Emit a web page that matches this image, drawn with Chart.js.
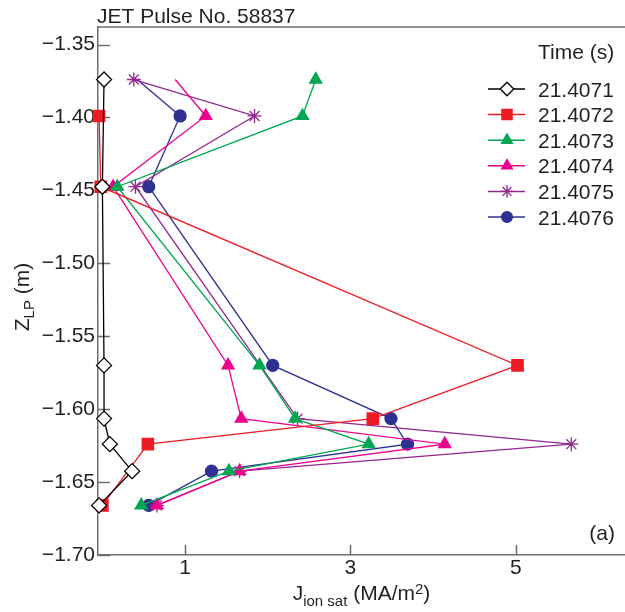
<!doctype html>
<html lang="en">

<head>
    <meta charset="utf-8">
    <title>JET Pulse No. 58837</title>
    <script src="https://cdn.jsdelivr.net/npm/chart.js"></script>
    <style>
        html, body {
            margin: 0;
            padding: 0;
            background: #fff;
        }

        #chart {
            display: block;
        }
    </style>
</head>

<body>
    <canvas id="chart" width="625" height="612"></canvas>
    <script>
        // probe positions (m) and Jsat per time slice
        const zProbe = [-1.374, -1.399, -1.4475, -1.570, -1.6065, -1.624, -1.6425, -1.666];
        const times = ['21.4071', '21.4072', '21.4073', '21.4074', '21.4075', '21.4076'];
        const j4071 = [0.02, null, 0.0, 0.02, 0.02, 0.09, 0.36, -0.04];
        const j4072 = [null, -0.04, -0.02, 5.02, 3.27, 0.55, null, 0.0];
        const j4073 = [2.58, 2.42, 0.18, 1.90, 2.33, 3.22, 1.53, 0.47];
        const j4074 = [0.88, 1.25, 0.13, 1.52, 1.68, 4.14, 1.66, 0.66];
        const j4075 = [0.38, 1.84, 0.40, null, 2.36, 5.67, 1.66, 0.66];
        const j4076 = [0.42, 0.94, 0.56, 2.06, 3.49, 3.69, 1.32, 0.56];
        const xTicks = [1, 3, 5];
        const yTicks = [-1.35, -1.40, -1.45, -1.50, -1.55, -1.60, -1.65, -1.70];

        const FONT = '"Liberation Sans", Arial, Helvetica, sans-serif';
        const TXT = '#231f20';
        const AXIS = '#6d6e71';

        const styles = [
            { color: '#000000', fill: '#ffffff', style: 'rectRot', r: 7.5 },
            { color: '#ed1c24', fill: '#ed1c24', style: 'rect', r: 8 },
            { color: '#00a651', fill: '#00a651', style: 'triangle', r: 7 },
            { color: '#ec008c', fill: '#ec008c', style: 'triangle', r: 7 },
            { color: '#92278f', fill: '#92278f', style: 'star', r: 7 },
            { color: '#2e3192', fill: '#2e3192', style: 'circle', r: 6 }
        ];
        // top points of these two slices have no marker in the figure
        const noTopMarker = ['21.4074', '21.4076'];

        const series = [j4071, j4072, j4073, j4074, j4075, j4076];

        const datasets = series.map((vals, i) => {
            const pts = [];
            vals.forEach((v, k) => {
                if (v !== null) pts.push({ x: v, y: zProbe[k] });
            });
            const s = styles[i];
            const radii = pts.map((p, k) => (k === 0 && p.y === zProbe[0] && noTopMarker.includes(times[i])) ? 0 : s.r);
            return {
                label: times[i],
                data: pts,
                showLine: true,
                borderColor: s.color,
                backgroundColor: s.fill,
                borderWidth: 1.3,
                pointStyle: s.style,
                pointRadius: radii,
                pointBorderColor: s.color,
                pointBackgroundColor: s.fill,
                pointBorderWidth: 1.3,
                tension: 0,
                fill: false,
                clip: false
            };
        });

        // draws things Chart.js can't: inner ticks, top frame, sub/superscript titles, legend
        const extras = {
            id: 'extras',
            beforeDatasetsDraw(chart) {
                const { ctx, chartArea: a, scales } = chart;
                ctx.save();
                ctx.strokeStyle = AXIS;
                ctx.lineWidth = 1.5;
                ctx.beginPath();
                ctx.moveTo(a.left, a.top);
                ctx.lineTo(chart.width, a.top);
                yTicks.forEach(v => {
                    const y = Math.round(scales.y.getPixelForValue(v)) + 0.5;
                    ctx.moveTo(a.left, y);
                    ctx.lineTo(a.left + 12, y);
                });
                xTicks.forEach(v => {
                    const x = Math.round(scales.x.getPixelForValue(v)) + 0.5;
                    ctx.moveTo(x, a.bottom);
                    ctx.lineTo(x, a.bottom - 10);
                });
                ctx.stroke();
                ctx.restore();
            },
            afterDraw(chart) {
                const { ctx, chartArea: a } = chart;
                ctx.save();
                ctx.fillStyle = TXT;
                ctx.textBaseline = 'alphabetic';

                // title
                ctx.font = '21px ' + FONT;
                ctx.textAlign = 'left';
                ctx.fillText('JET Pulse No. 58837', 97, 23);

                // panel tag
                ctx.textAlign = 'right';
                ctx.fillText('(a)', 615, 540);

                // x axis title: J_ion sat (MA/m^2)
                const big = '21px ' + FONT, small = '15px ' + FONT;
                const parts = [
                    { t: 'J', f: big, dy: 0 },
                    { t: 'ion sat', f: small, dy: 6 },
                    { t: ' (MA/m', f: big, dy: 0 },
                    { t: '2', f: small, dy: -6 },
                    { t: ')', f: big, dy: 0 }
                ];
                const drawParts = (list, x0, y0) => {
                    let x = x0;
                    list.forEach(p => {
                        ctx.font = p.f;
                        ctx.fillText(p.t, x, y0 + p.dy);
                        x += ctx.measureText(p.t).width;
                    });
                };
                const widthOf = list => list.reduce((w, p) => {
                    ctx.font = p.f;
                    return w + ctx.measureText(p.t).width;
                }, 0);
                ctx.textAlign = 'left';
                const wx = widthOf(parts);
                drawParts(parts, (a.left + a.right) / 2 - wx / 2, 600);

                // y axis title: Z_LP (m), rotated
                const yparts = [
                    { t: 'Z', f: big, dy: 0 },
                    { t: 'LP', f: small, dy: 5 },
                    { t: ' (m)', f: big, dy: 0 }
                ];
                const wy = widthOf(yparts);
                ctx.save();
                ctx.translate(29, 297);
                ctx.rotate(-Math.PI / 2);
                drawParts(yparts, -wy / 2, 0);
                ctx.restore();

                // legend
                ctx.font = big;
                ctx.textAlign = 'left';
                ctx.fillText('Time (s)', 538, 59);
                chart.data.datasets.forEach((ds, i) => {
                    const s = styles[i];
                    const y = 89 + i * 25.6;
                    ctx.strokeStyle = s.color;
                    ctx.lineWidth = 1.5;
                    ctx.beginPath();
                    ctx.moveTo(488, y);
                    ctx.lineTo(525, y);
                    ctx.stroke();
                    ctx.fillStyle = s.fill;
                    ctx.strokeStyle = s.color;
                    ctx.lineWidth = 1.3;
                    Chart.helpers.drawPoint(ctx, { pointStyle: s.style, radius: s.r * 0.9, borderWidth: 1.3, rotation: 0 }, 507, y);
                    ctx.fillStyle = TXT;
                    ctx.font = big;
                    ctx.fillText(ds.label, 538, y + 7.5);
                });
                ctx.restore();
            }
        };

        const fmtY = v => (v < 0 ? '\u2212' : '') + Math.abs(v).toFixed(2);

        new Chart(document.getElementById('chart').getContext('2d'), {
            type: 'scatter',
            data: { datasets },
            options: {
                responsive: false,
                animation: false,
                events: [],
                layout: { autoPadding: false, padding: { top: 27, right: 0, bottom: 0, left: 0 } },
                plugins: {
                    legend: { display: false },
                    title: { display: false },
                    tooltip: { enabled: false }
                },
                scales: {
                    x: {
                        type: 'linear',
                        min: -0.053,
                        max: 6.32,
                        grid: { display: false, drawTicks: false },
                        border: { display: true, color: AXIS, width: 1.5 },
                        afterBuildTicks: s => { s.ticks = xTicks.map(v => ({ value: v })); },
                        afterFit: s => { s.height = 57; },
                        ticks: {
                            padding: 1,
                            color: TXT,
                            font: { family: FONT, size: 21 },
                            maxRotation: 0,
                            callback: v => String(v)
                        }
                    },
                    y: {
                        type: 'linear',
                        min: -1.70,
                        max: -1.338,
                        grid: { display: false, drawTicks: false },
                        border: { display: true, color: AXIS, width: 1.5 },
                        afterBuildTicks: s => { s.ticks = yTicks.map(v => ({ value: v })); },
                        afterFit: s => { s.width = 98; },
                        ticks: {
                            padding: 3,
                            color: TXT,
                            font: { family: FONT, size: 21 },
                            callback: v => fmtY(v)
                        }
                    }
                }
            },
            plugins: [extras]
        });
    </script>
</body>

</html>
